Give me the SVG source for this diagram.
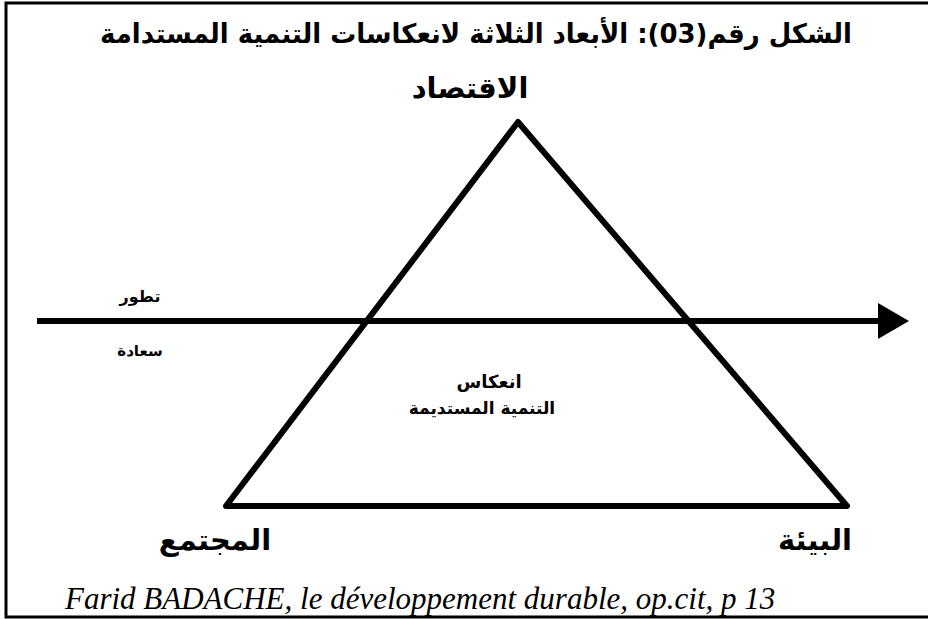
<svg xmlns="http://www.w3.org/2000/svg" width="928" height="619" viewBox="0 0 928 619">
<style>
.ar{font-family:"DejaVu Sans",sans-serif;font-weight:bold;fill:#000;text-anchor:middle}
.ln{stroke:#000;fill:none}
</style>
<defs>
<marker id="ah" markerUnits="userSpaceOnUse" markerWidth="32" markerHeight="36" refX="1" refY="18" orient="auto">
<path d="M0,0 L31,18 L0,36 Z" fill="#000"/>
</marker>
</defs>
<rect width="928" height="619" fill="#fff"/>
<g id="frame">
<path class="ln" d="M930,3 H6 V617 H930" stroke-width="3"/>
</g>
<g id="title">
<text class="ar" x="476" y="43" font-size="27" textLength="752" lengthAdjust="spacingAndGlyphs">الشكل رقم(03): الأبعاد الثلاثة لانعكاسات التنمية المستدامة</text>
</g>
<g id="connectors">
<path class="ln" d="M518,122 L847,506 L226,506 Z" stroke-width="6" stroke-linejoin="round"/>
<line class="ln" x1="37" y1="321" x2="879" y2="321" stroke-width="6" marker-end="url(#ah)"/>
</g>
<g id="economy">
<text class="ar" x="470" y="98" font-size="29">الاقتصاد</text>
</g>
<g id="society">
<text class="ar" x="215" y="550" font-size="29">المجتمع</text>
</g>
<g id="environment">
<text class="ar" x="815" y="550" font-size="29">البيئة</text>
</g>
<g id="progress">
<text class="ar" x="140" y="302" font-size="16">تطور</text>
</g>
<g id="happiness">
<text class="ar" x="140" y="356" font-size="15">سعادة</text>
</g>
<g id="center">
<text class="ar" x="489" y="388" font-size="18">انعكاس</text>
<text class="ar" x="482" y="414" font-size="17">التنمية المستديمة</text>
</g>
<g id="source">
<text x="65" y="609" font-family="'Liberation Serif',serif" font-style="italic" font-size="31" fill="#000">Farid BADACHE, le développement durable, op.cit, p 13</text>
</g>
</svg>
